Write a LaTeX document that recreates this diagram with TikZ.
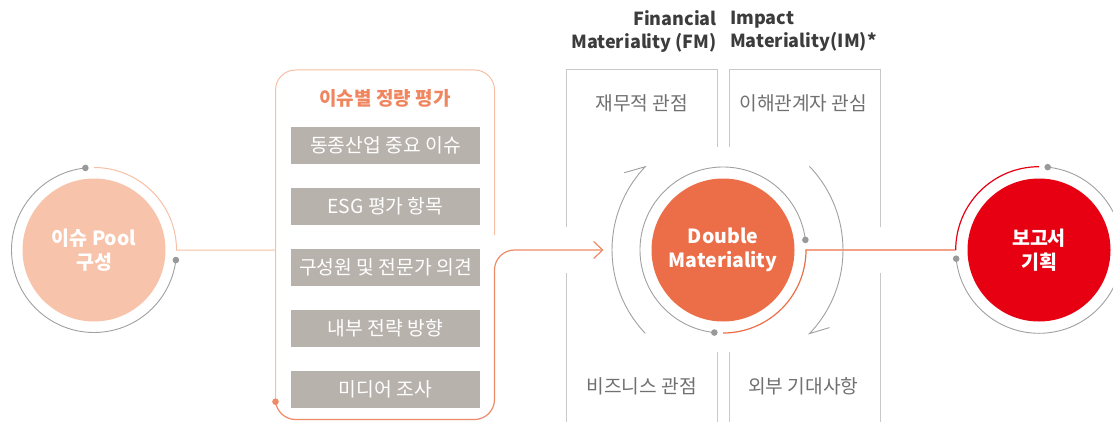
\documentclass[tikz,border=0pt]{standalone}
\usepackage{fontspec}
\setmainfont{Noto Sans CJK KR}
\usetikzlibrary{positioning,arrows.meta}
\definecolor{peachfill}{HTML}{F7C4AB}
\definecolor{peachline}{HTML}{F6BFA5}
\definecolor{pathorange}{HTML}{EF8A66}
\definecolor{titleorange}{HTML}{EF8660}
\definecolor{dmorange}{HTML}{EC6E48}
\definecolor{reportred}{HTML}{E60012}
\definecolor{boxgray}{HTML}{B8B2AD}
\definecolor{ringgray}{HTML}{A0A0A0}
\definecolor{dotgray}{HTML}{999999}
\definecolor{quadline}{HTML}{C8C8C8}
\definecolor{headtext}{HTML}{3C3C3C}
\definecolor{quadtext}{HTML}{707070}
\begin{document}
\begin{tikzpicture}[x=1pt,y=1pt,
		big/.style={circle,inner sep=0pt,minimum size=143pt,text=white,align=center,
			font=\fontsize{19.5}{23.5}\selectfont\bfseries},
		ring/.style={draw=ringgray,line width=0.9pt},
		item/.style={fill=boxgray,text=white,minimum width=189pt,minimum height=37.5pt,
			inner sep=0pt,font=\fontsize{19.3}{22}\selectfont},
		view/.style={text=quadtext,font=\fontsize{19.2}{22}\selectfont},
		head/.style={text=headtext,inner sep=0pt,font=\fontsize{18}{23}\selectfont\bfseries},
		node distance=23.1pt ]
	\useasboundingbox (0,0) rectangle (1113,421);
	% circles
	\node [big,fill=peachfill] (pool) at (94,171) {이슈 Pool\\구성};
	\node [big,fill=dmorange] (dm) at (723,171) {Double\\Materiality};
	\node [big,fill=reportred] (report) at (1039,171) {보고서\\기획};
	% boxes
	\node [text=titleorange,font=\fontsize{19}{22}\selectfont\bfseries] (title) at (385,323) {이슈별 정량 평가};
	\node [item] (b1) at (385.5,275.5) {동종산업 중요 이슈};
	\node [item,below=of b1] (b2) {ESG 평가 항목};
	\node [item,below=of b2] (b3) {구성원 및 전문가 의견};
	\node [item,below=of b3] (b4) {내부 전략 방향};
	\node [item,below=of b4] (b5) {미디어 조사};
	\coordinate (join) at (275.5,171);
	\coordinate (start) at (275.5,19.3);
	\coordinate (tip) at (603.5,171);
	\draw [peachline,line width=1pt,rounded corners=20pt] (start) |- (494.5,351) -- (494.5,186);
	\draw [pathorange,line width=1.2pt,rounded corners=20pt,-{Straight Barb[length=9pt,width=17pt]}]
		(start) |- (494.5,1.5) |- (tip);
	\fill [pathorange] (start) circle[radius=3.3pt];
	% quadrants
	\draw [quadline,line width=1pt] (566.7,194.3) |- (717.3,351) -- (717.3,274.3);
	\draw [quadline,line width=1pt] (566.7,148) -- (566.7,-2);
	\draw [quadline,line width=1pt] (717.3,69.3) -- (717.3,-2);
	\draw [quadline,line width=1pt] (729.3,274.3) |- (880,351) -- (880,194.3);
	\draw [quadline,line width=1pt] (880,148) -- (880,-2);
	\draw [quadline,line width=1pt] (729.3,69.3) -- (729.3,-2);
	\node [view] (fin) at (641.7,318) {재무적 관점};
	\node [view] (imp) at (803.3,318) {이해관계자 관심};
	\node [view] (biz) at (641.7,34.5) {비즈니스 관점};
	\node [view] (ext) at (803.3,34.5) {외부 기대사항};
	\node [head,anchor=east,align=right] (fm) at (717,390) {Financial\\Materiality (FM)};
	\node [head,anchor=west,align=left] (im) at (730,390) {Impact\\Materiality(IM)*};
	% rings
	\draw [ring] ([shift={(96:82.5pt)}]pool.center) arc[start angle=96,end angle=353,radius=82.5pt];
	\draw [peachline,line width=1pt] ([shift={(90:82.5pt)}]pool.center) arc[start angle=90,end angle=0,radius=82.5pt] -- (join);
	\draw [ring] ([shift={(7:83pt)}]dm.center) arc[start angle=7,end angle=264,radius=83pt];
	\draw [dmorange,line width=1.2pt] ([shift={(270:83pt)}]dm.center) arc[start angle=270,end angle=360,radius=83pt]
		-- ([shift={(180:83.3pt)}]report.center);
	\draw [ring] ([shift={(84:83.3pt)}]report.center) arc[start angle=84,end angle=-174,radius=83.3pt];
	\draw [reportred,line width=1.2pt] ([shift={(90:83.3pt)}]report.center) arc[start angle=90,end angle=180,radius=83.3pt];
	\fill [dotgray] ([shift={(96:82.5pt)}]pool.center) circle[radius=3.3pt]
		([shift={(-7:82.5pt)}]pool.center) circle[radius=3.3pt]
		([shift={(7:83pt)}]dm.center) circle[radius=3.3pt]
		([shift={(264:83pt)}]dm.center) circle[radius=3.3pt]
		([shift={(84:83.3pt)}]report.center) circle[radius=3.3pt]
		([shift={(186:83.3pt)}]report.center) circle[radius=3.3pt];
	% turning arrows
	\draw [ring] ([shift={(223.5:121pt)}]733,171) arc[start angle=223.5,end angle=136.5,radius=121pt] -- ++(-21,-6);
	\draw [ring] ([shift={(43.7:121pt)}]722,171) arc[start angle=43.7,end angle=-43.7,radius=121pt] -- ++(20,6);
\end{tikzpicture}
\end{document}
